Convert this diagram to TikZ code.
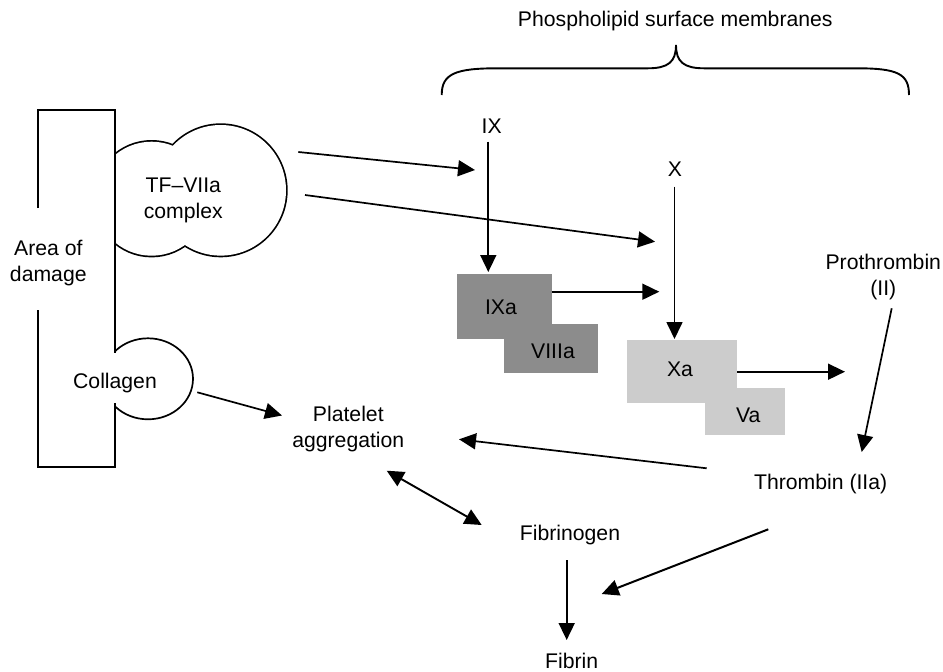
\documentclass[tikz,border=0pt]{standalone}
\usepackage{fontspec}
\setmainfont{Liberation Sans}
\usetikzlibrary{arrows.meta}
\begin{document}
\begin{tikzpicture}[x=1pt,y=-1pt,
  lbl/.style={inner sep=0pt, anchor=base, align=center, font=\fontsize{21.2}{26.5}\selectfont},
  arr/.style={line width=1.7pt, -{Triangle[length=17pt,width=16pt]}},
  darr/.style={line width=1.9pt, {Triangle[length=17pt,width=16pt]}-{Triangle[length=17pt,width=16pt]}},
  outline/.style={line width=1.7pt},
  darkbox/.style={fill=black!45, draw=none, inner sep=0pt},
  lightbox/.style={fill=black!20, draw=none, inner sep=0pt}]
\useasboundingbox (0,0) rectangle (943,672);

% title and brace
\node[lbl] (title) at (675.3,26.7) {Phospholipid surface membranes};
\draw[line width=1.9pt] (441.7,95) .. controls (441.7,74) and (455,68.3) .. (497,68.3) -- (648,68.3)
  .. controls (668,68.3) and (676,62) .. (676,45)
  .. controls (676,62) and (684,68.3) .. (704,68.3) -- (857,68.3)
  .. controls (898,68.3) and (909,74) .. (909,95);

% area of damage rectangle
\draw[outline] (37.7,208) -- (37.7,110) -- (115,110) -- (115,353.3);
\draw[outline] (115,403.3) -- (115,466.7) -- (37.7,466.7) -- (37.7,310);
\node[lbl] (area) at (48.3,281.5) {Area of\\damage};

% TF-VIIa blob
\begin{scope}
  \clip (115.8,100) rectangle (300,270);
  \draw[line width=3.4pt] (151.6,198.7) circle[radius=57pt] (220.7,190.3) circle[radius=65.3pt];
  \fill[white] (151.6,198.7) circle[radius=57pt] (220.7,190.3) circle[radius=65.3pt];
\end{scope}
\draw[outline] (115,140) -- (115,260);
\node[lbl] (tf) at (183.3,218.5) {TF--VIIa\\complex};

% collagen blob
\begin{scope}
  \clip (115,320) rectangle (200,430);
  \draw[outline] (148,378.8) ellipse[x radius=45pt, y radius=40.5pt];
\end{scope}
\node[lbl] (collagen) at (115,388) {Collagen};

% factor labels
\node[lbl] (IX) at (491.7,133) {IX};
\node[lbl] (X) at (675,176) {X};
\node[lbl] (pro) at (883.3,295.5) {Prothrombin\\(II)};
\node[lbl] (thr) at (820.7,489) {Thrombin (IIa)};
\node[lbl] (plt) at (348.3,447.5) {Platelet\\aggregation};
\node[lbl] (fgn) at (570,540) {Fibrinogen};
\node[lbl] (fib) at (571.7,668) {Fibrin};

% shaded complexes
\node[darkbox, minimum width=94.4pt, minimum height=65.3pt] (IXabox) at (504.5,306.7) {};
\node[darkbox, minimum width=94pt, minimum height=48.7pt] (VIIIabox) at (551.3,348.3) {};
\node[lightbox, minimum width=110.3pt, minimum height=63.3pt] (Xabox) at (682.2,371.7) {};
\node[lightbox, minimum width=80pt, minimum height=47.3pt] (Vabox) at (745,411.3) {};
\node[lbl] (IXa) at (501,314) {IXa};
\node[lbl] (VIIIa) at (553,358) {VIIIa};
\node[lbl] (Xa) at (680,376) {Xa};
\node[lbl] (Va) at (748.3,422) {Va};

% connector end points
\coordinate (tfA1) at (298.3,152);
\coordinate (tfA2) at (475,170);
\coordinate (tfB1) at (305,195);
\coordinate (tfB2) at (655,241.7);
\coordinate (ixTop) at (488.3,141.7);
\coordinate (ixaIn) at (488.3,272);
\coordinate (xTop) at (674.5,186.7);
\coordinate (xaIn) at (674.5,339);
\coordinate (ixaOut) at (551.7,291.7);
\coordinate (ixaTip) at (659.3,291.7);
\coordinate (xaOut) at (737.3,371.7);
\coordinate (xaTip) at (845,371.7);
\coordinate (proOut) at (891.7,308.3);
\coordinate (thrIn) at (861.7,452);
\coordinate (thrOut1) at (706.7,468.3);
\coordinate (pltIn1) at (459,439.3);
\coordinate (colOut) at (197.3,392.3);
\coordinate (pltIn2) at (282,415.5);
\coordinate (pltEnd) at (386.7,470.7);
\coordinate (fgnEnd) at (481.7,525);
\coordinate (fgnOut) at (566.7,560);
\coordinate (fibIn) at (566.7,640);
\coordinate (thrOut2) at (768.3,529.3);
\coordinate (fibIn2) at (601.7,594);

% connectors
\draw[arr] (tfA1) -- (tfA2);
\draw[arr] (tfB1) -- (tfB2);
\draw[arr] (ixTop) -- (ixaIn);
\draw[arr] (xTop) -- (xaIn);
\draw[arr] (ixaOut) -- (ixaTip);
\draw[arr] (xaOut) -- (xaTip);
\draw[arr] (proOut) -- (thrIn);
\draw[arr] (thrOut1) -- (pltIn1);
\draw[arr] (colOut) -- (pltIn2);
\draw[darr] (pltEnd) -- (fgnEnd);
\draw[arr] (fgnOut) -- (fibIn);
\draw[arr,line width=2pt] (thrOut2) -- (fibIn2);
\end{tikzpicture}
\end{document}
